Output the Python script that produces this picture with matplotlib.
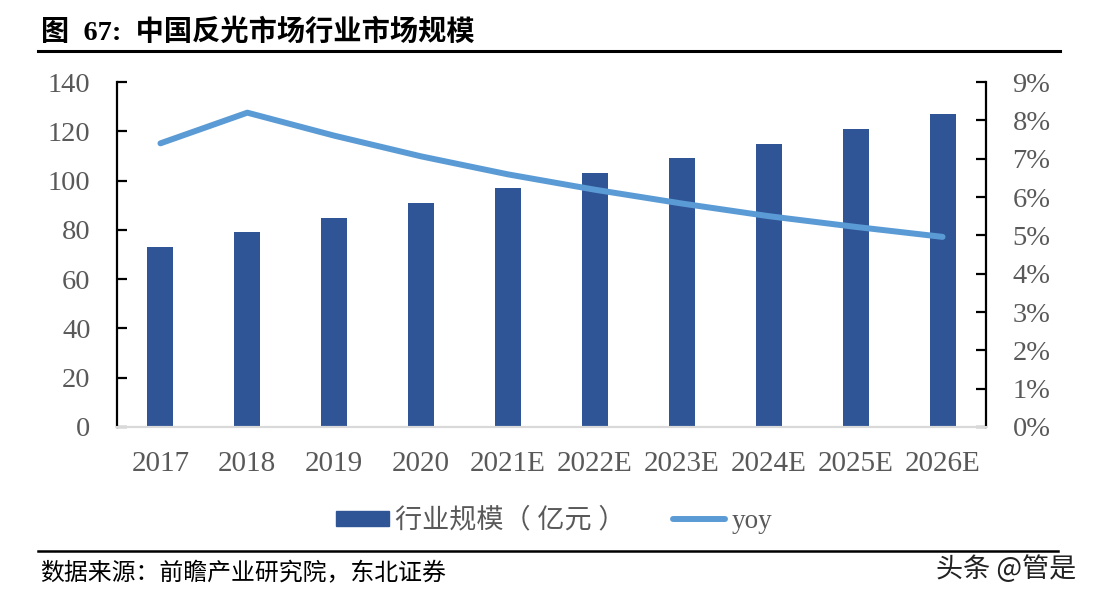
import matplotlib
matplotlib.use("Agg")
import matplotlib.pyplot as plt
from matplotlib.lines import Line2D
from matplotlib.patches import Patch
from matplotlib.ticker import FuncFormatter

categories = ["2017", "2018", "2019", "2020", "2021E", "2022E", "2023E", "2024E", "2025E", "2026E"]
market_size = [73, 79, 85, 91, 97, 103, 109, 115, 121, 127]
yoy = [0.074, 0.082, 0.076, 0.0706, 0.0659, 0.0619, 0.0583, 0.055, 0.0522, 0.0496]
left_ticks = [0, 20, 40, 60, 80, 100, 120, 140]
right_ticks = [0, 0.01, 0.02, 0.03, 0.04, 0.05, 0.06, 0.07, 0.08, 0.09]

SERIF = ["Liberation Serif", "Noto Sans CJK SC", "DejaVu Sans"]
CJK = ["Noto Sans CJK SC", "DejaVu Sans"]
TICK_COLOR = "#595959"
BAR_COLOR = "#2F5597"
LINE_COLOR = "#5B9BD5"

W, H = 1094, 601
fig = plt.figure(figsize=(W / 100, H / 100), dpi=100)
ax = fig.add_axes([117 / W, 1 - 427 / H, (986 - 117) / W, (427 - 82) / H])
ax2 = ax.twinx()

x = list(range(len(categories)))
ax.bar(x, market_size, width=0.3, color=BAR_COLOR, zorder=2)
ax2.plot(x, yoy, color=LINE_COLOR, lw=4.3, solid_capstyle="round", zorder=3)

ax.set_xlim(-0.5, len(categories) - 0.5)
ax.set_ylim(0, 140)
ax.set_yticks(left_ticks)
ax2.set_ylim(0, 0.09)
ax2.set_yticks(right_ticks)
ax2.yaxis.set_major_formatter(FuncFormatter(lambda v, p: f"{v * 100:.0f}%"))
ax.set_xticks(x)
ax.set_xticklabels(categories)

for a in (ax, ax2):
    a.spines["top"].set_visible(False)
    a.spines["bottom"].set_color("#D9D9D9")
    a.spines["bottom"].set_linewidth(1.5)
    a.patch.set_visible(False)
ax.spines["left"].set_color("black")
ax.spines["left"].set_linewidth(1.6)
ax.spines["right"].set_visible(False)
ax2.spines["left"].set_visible(False)
ax2.spines["right"].set_color("black")
ax2.spines["right"].set_linewidth(1.6)

ax.tick_params(axis="y", direction="in", length=7, width=1.6, pad=19, color="black")
ax.tick_params(axis="x", length=0, pad=17)
ax2.tick_params(axis="y", direction="in", length=7, width=1.6, pad=19, color="black")
for lab in ax.get_xticklabels():
    lab.set_family(SERIF)
    lab.set_fontsize(21)
    lab.set_color(TICK_COLOR)
for lab in ax.get_yticklabels() + ax2.get_yticklabels():
    lab.set_family(SERIF)
    lab.set_fontsize(20.5)
    lab.set_color(TICK_COLOR)

handles = [Patch(color=BAR_COLOR), Line2D([0], [0], color=LINE_COLOR, lw=4.3, solid_capstyle="round")]
leg = fig.legend(handles, ["行业规模（ 亿元 ）", "yoy"], loc="center", bbox_to_anchor=(554 / W, 1 - 521 / H),
                 ncol=2, frameon=False, handlelength=1.95, handleheight=0.5, handletextpad=0.22,
                 columnspacing=1.75, prop={"family": SERIF, "size": 19.5})
for t in leg.get_texts():
    t.set_color(TICK_COLOR)

# title and rules
fig.text(41 / W, 1 - 32 / H, "图  67:  中国反光市场行业市场规模", family=SERIF, weight="bold",
         fontsize=20.3, color="black", va="center", ha="left")
fig.add_artist(Line2D([38 / W, 1060 / W], [1 - 51 / H, 1 - 51 / H], color="black", lw=2.2))
fig.add_artist(Line2D([38 / W, 1058 / W], [1 - 551 / H, 1 - 551 / H], color="black", lw=1.8))
fig.text(40 / W, 1 - 574 / H, "数据来源：前瞻产业研究院，东北证券", family=CJK, fontsize=17.2,
         color="black", va="center", ha="left")
fig.text(1076 / W, 1 - 569 / H, "头条 @管是", family=CJK, fontsize=19.5, color="#222222",
         va="center", ha="right")

fig.savefig("out.png", dpi=100)
